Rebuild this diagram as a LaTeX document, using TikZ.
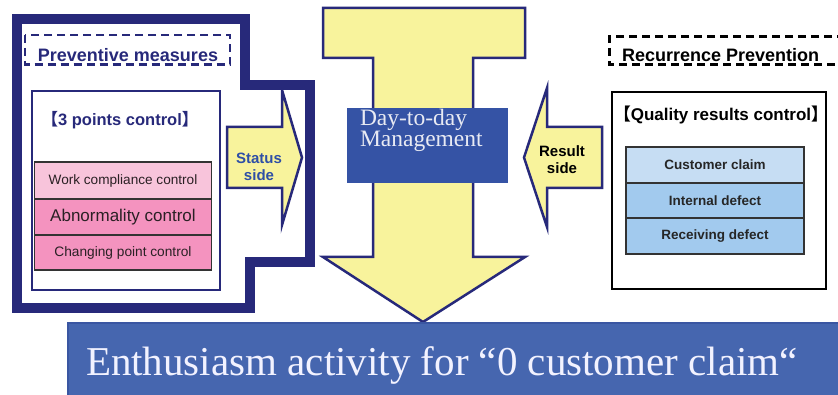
\documentclass[tikz,border=0pt]{standalone}
\usepackage{fontspec}
\setmainfont{Liberation Sans}
\newfontfamily\seriffont{Liberation Serif}
\newfontfamily\cjkfont{Noto Sans CJK SC}
\definecolor{navy}{HTML}{27297A}
\definecolor{yellowf}{HTML}{F8F39C}
\definecolor{daybox}{HTML}{3553A5}
\definecolor{barfill}{HTML}{4666AF}
\definecolor{barline}{HTML}{3A56A2}
\definecolor{pinka}{HTML}{F8C4DB}
\definecolor{pinkb}{HTML}{F493BF}
\definecolor{bluea}{HTML}{C6DDF3}
\definecolor{blueb}{HTML}{A2CAEE}
\definecolor{statusblue}{HTML}{2E4FA6}
\definecolor{rowtext}{HTML}{2A2024}
\definecolor{lighttext}{HTML}{E8EAF3}
\newcommand{\fsz}[1]{\fontsize{#1}{#1}\selectfont}
\begin{document}
\begin{tikzpicture}[x=1pt,y=-1pt,
  thickframe/.style={draw=navy,line width=10pt,line join=miter},
  dashbox/.style={dash pattern=on 8pt off 5pt,line width=2.5pt},
  yarrow/.style={fill=yellowf,draw=navy,line width=2.5pt,line join=miter},
  rowbox/.style={draw=black!80,line width=1.3pt,inner sep=0pt,outer sep=0pt,minimum width=#1},
  lbl/.style={inner sep=0pt,outer sep=0pt}
]
\useasboundingbox (0,0) rectangle (838,395);
\fill[white] (0,0) rectangle (838,395);

% left thick frame
\draw[thickframe] (17,19) -- (245,19) -- (245,85) -- (310,85) -- (310,262)
  -- (250,262) -- (250,308) -- (17,308) -- cycle;

% preventive measures
\draw[dashbox,draw=navy] (25,35) rectangle (230,64.5);
\node[lbl,anchor=base,text=navy,font=\bfseries\fsz{18}] (prev) at (128,62) {Preventive measures};

% 3 points control box
\draw[draw=navy,line width=2pt] (31.5,91.5) rectangle (220,290);
\node[lbl,anchor=base,text=navy,font=\bfseries\fsz{16.5}] (tpc) at (120,126)
  {{\cjkfont 【}3 points control{\cjkfont 】}};

\node[rowbox=177.4pt,minimum height=37pt,fill=pinka,text=rowtext,font=\fsz{13.6}] (wcc) at (123,180.5) {Work compliance control};
\node[rowbox=177.4pt,minimum height=36pt,fill=pinkb,text=rowtext,font=\fsz{17}] (abn) at (123,217) {Abnormality control};
\node[rowbox=177.4pt,minimum height=35pt,fill=pinkb,text=rowtext,font=\fsz{13.7}] (chg) at (123,252.5) {Changing point control};

% status arrow
\draw[yarrow] (227,127) -- (282,127) -- (282,90) -- (302,157.5) -- (282,225)
  -- (282,188) -- (227,188) -- cycle;
\node[lbl,align=center,text=statusblue,font=\bfseries\fsz{15},
  execute at begin node={\setlength{\baselineskip}{17pt}}] (status) at (259,167) {Status\\side};

% central arrow
\draw[yarrow] (323,8) -- (525,8) -- (525,58) -- (473,58) -- (473,257) -- (525,257)
  -- (423,322) -- (323,257) -- (373,257) -- (373,58) -- (323,58) -- cycle;

% day-to-day box
\fill[daybox] (347,108) rectangle (508,183);
\node[lbl,anchor=base west,align=left,text=lighttext,font=\seriffont\fsz{23.5},
  execute at begin node={\setlength{\baselineskip}{17pt}}] (day) at (360,147) {Day-to-day\\Management};

% result arrow
\draw[yarrow] (602,127) -- (547,127) -- (547,88) -- (524,157.5) -- (547,227)
  -- (547,188) -- (602,188) -- cycle;
\node[lbl,align=center,text=black,font=\bfseries\fsz{15},
  execute at begin node={\setlength{\baselineskip}{17pt}}] (result) at (562,160) {Result\\side};

% recurrence prevention
\draw[dashbox,draw=black] (845,36.5) -- (609.5,36.5) -- (609.5,64.5) -- (845,64.5);
\node[lbl,anchor=base west,text=black,font=\bfseries\fsz{18}] (rec) at (622,62) {Recurrence Prevention};

% quality results control box
\draw[draw=black,line width=2pt] (611.5,92) rectangle (826,289.5);
\node[lbl,anchor=base,text=black,font=\bfseries\fsz{17}] (qrc) at (721,121)
  {{\cjkfont 【}Quality results control{\cjkfont 】}};

\node[rowbox=178pt,minimum height=36pt,fill=bluea,text=black!85,font=\bfseries\fsz{13.5}] (cc) at (715,165) {Customer claim};
\node[rowbox=178pt,minimum height=35pt,fill=blueb,text=black!85,font=\bfseries\fsz{13.5}] (idf) at (715,200.5) {Internal defect};
\node[rowbox=178pt,minimum height=36pt,fill=blueb,text=black!85,font=\bfseries\fsz{13.5}] (rdf) at (715,236) {Receiving defect};

% bottom bar
\draw[fill=barfill,draw=barline,line width=2.5pt] (68,323) rectangle (850,400);
\node[lbl,anchor=base west,text=white!95!blue,font=\seriffont\fsz{41}] (enth) at (86,375)
  {Enthusiasm activity for “0 customer claim“};
\end{tikzpicture}
\end{document}
